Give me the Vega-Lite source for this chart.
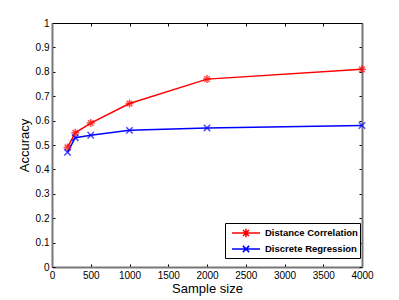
{
  "$schema": "https://vega.github.io/schema/vega-lite/v6.json",
  "width": 310,
  "height": 244,
  "autosize": {"type": "none"},
  "padding": {"left": 52, "top": 23, "right": 37, "bottom": 33},
  "background": "white",
  "config": {
    "font": "Liberation Sans",
    "view": {"stroke": "#000000", "strokeWidth": 1},
    "axis": {
      "labelFont": "Liberation Sans",
      "titleFont": "Liberation Sans",
      "labelFontSize": 10,
      "titleFontSize": 13,
      "titleFontWeight": "normal",
      "labelColor": "#000",
      "titleColor": "#000",
      "tickColor": "#000",
      "grid": false
    }
  },
  "data": {
    "values": [
      {"n": 200, "acc": 0.49, "method": "Distance Correlation"},
      {"n": 300, "acc": 0.55, "method": "Distance Correlation"},
      {"n": 500, "acc": 0.59, "method": "Distance Correlation"},
      {"n": 1000, "acc": 0.67, "method": "Distance Correlation"},
      {"n": 2000, "acc": 0.77, "method": "Distance Correlation"},
      {"n": 4000, "acc": 0.81, "method": "Distance Correlation"},
      {"n": 200, "acc": 0.47, "method": "Discrete Regression"},
      {"n": 300, "acc": 0.53, "method": "Discrete Regression"},
      {"n": 500, "acc": 0.54, "method": "Discrete Regression"},
      {"n": 1000, "acc": 0.56, "method": "Discrete Regression"},
      {"n": 2000, "acc": 0.57, "method": "Discrete Regression"},
      {"n": 4000, "acc": 0.58, "method": "Discrete Regression"}
    ]
  },
  "resolve": {"axis": {"x": "independent", "y": "independent"}},
  "layer": [
    {
      "mark": {"type": "line", "strokeWidth": 1.5},
      "encoding": {
        "x": {
          "field": "n", "type": "quantitative",
          "scale": {"domain": [0, 4000], "nice": false, "zero": false},
          "axis": {
            "title": "Sample size", "values": [0, 500, 1000, 1500, 2000, 2500, 3000, 3500, 4000],
            "format": "d", "tickSize": -3, "labelPadding": 6, "titlePadding": 2,
            "domainColor": "#777", "domainWidth": 2, "labelFlush": false
          }
        },
        "y": {
          "field": "acc", "type": "quantitative",
          "scale": {"domain": [0, 1], "nice": false},
          "axis": {
            "title": "Accuracy", "values": [0, 0.1, 0.2, 0.3, 0.4, 0.5, 0.6, 0.7, 0.8, 0.9, 1],
            "format": "~g", "tickSize": -3, "labelPadding": 6, "titlePadding": 4,
            "domainColor": "#777", "domainWidth": 2, "labelFlush": false
          }
        },
        "color": {
          "field": "method", "type": "nominal",
          "scale": {"domain": ["Distance Correlation", "Discrete Regression"], "range": ["#ff0000", "#0000ff"]},
          "legend": {
            "title": null,
            "orient": "none",
            "legendX": 173,
            "legendY": 200,
            "direction": "vertical",
            "labelFont": "Liberation Sans",
            "labelFontSize": 9.5,
            "labelFontWeight": "bold",
            "labelColor": "#000",
            "strokeColor": "#000",
            "fillColor": "#ffffff",
            "padding": 2,
            "rowPadding": 0,
            "symbolSize": 196,
            "symbolStrokeWidth": 1.5,
            "symbolFillColor": "transparent",
            "labelOffset": 11,
            "symbolOffset": 11,
            "symbolType": {"expr": "datum.value === 'Distance Correlation' ? 'M-2,0L2,0M-0.6,0L0.6,0M0,-0.6L0,0.6M-0.42,-0.42L0.42,0.42M-0.42,0.42L0.42,-0.42' : 'M-2,0L2,0M-0.45,-0.45L0.45,0.45M-0.45,0.45L0.45,-0.45'"}
          }
        }
      }
    },
    {
      "transform": [{"filter": "datum.method === 'Distance Correlation'"}],
      "mark": {"type": "point", "filled": false, "strokeWidth": 1.5, "size": 64, "shape": "M-1,0L1,0M0,-1L0,1M-0.7,-0.7L0.7,0.7M-0.7,0.7L0.7,-0.7"},
      "encoding": {
        "x": {"field": "n", "type": "quantitative", "axis": {"orient": "top", "labels": false, "title": null, "values": [0, 500, 1000, 1500, 2000, 2500, 3000, 3500, 4000], "tickSize": -3, "domainColor": "#000", "domainWidth": 1}},
        "y": {"field": "acc", "type": "quantitative", "axis": {"orient": "right", "labels": false, "title": null, "values": [0, 0.1, 0.2, 0.3, 0.4, 0.5, 0.6, 0.7, 0.8, 0.9, 1], "tickSize": -3, "domainColor": "#777", "domainWidth": 2}},
        "color": {"field": "method", "type": "nominal", "legend": null}
      }
    },
    {
      "transform": [{"filter": "datum.method === 'Discrete Regression'"}],
      "mark": {"type": "point", "filled": false, "strokeWidth": 1.5, "size": 64, "shape": "M-0.8,-0.8L0.8,0.8M-0.8,0.8L0.8,-0.8"},
      "encoding": {
        "x": {"field": "n", "type": "quantitative", "axis": null},
        "y": {"field": "acc", "type": "quantitative", "axis": null},
        "color": {"field": "method", "type": "nominal", "legend": null}
      }
    }
  ]
}
